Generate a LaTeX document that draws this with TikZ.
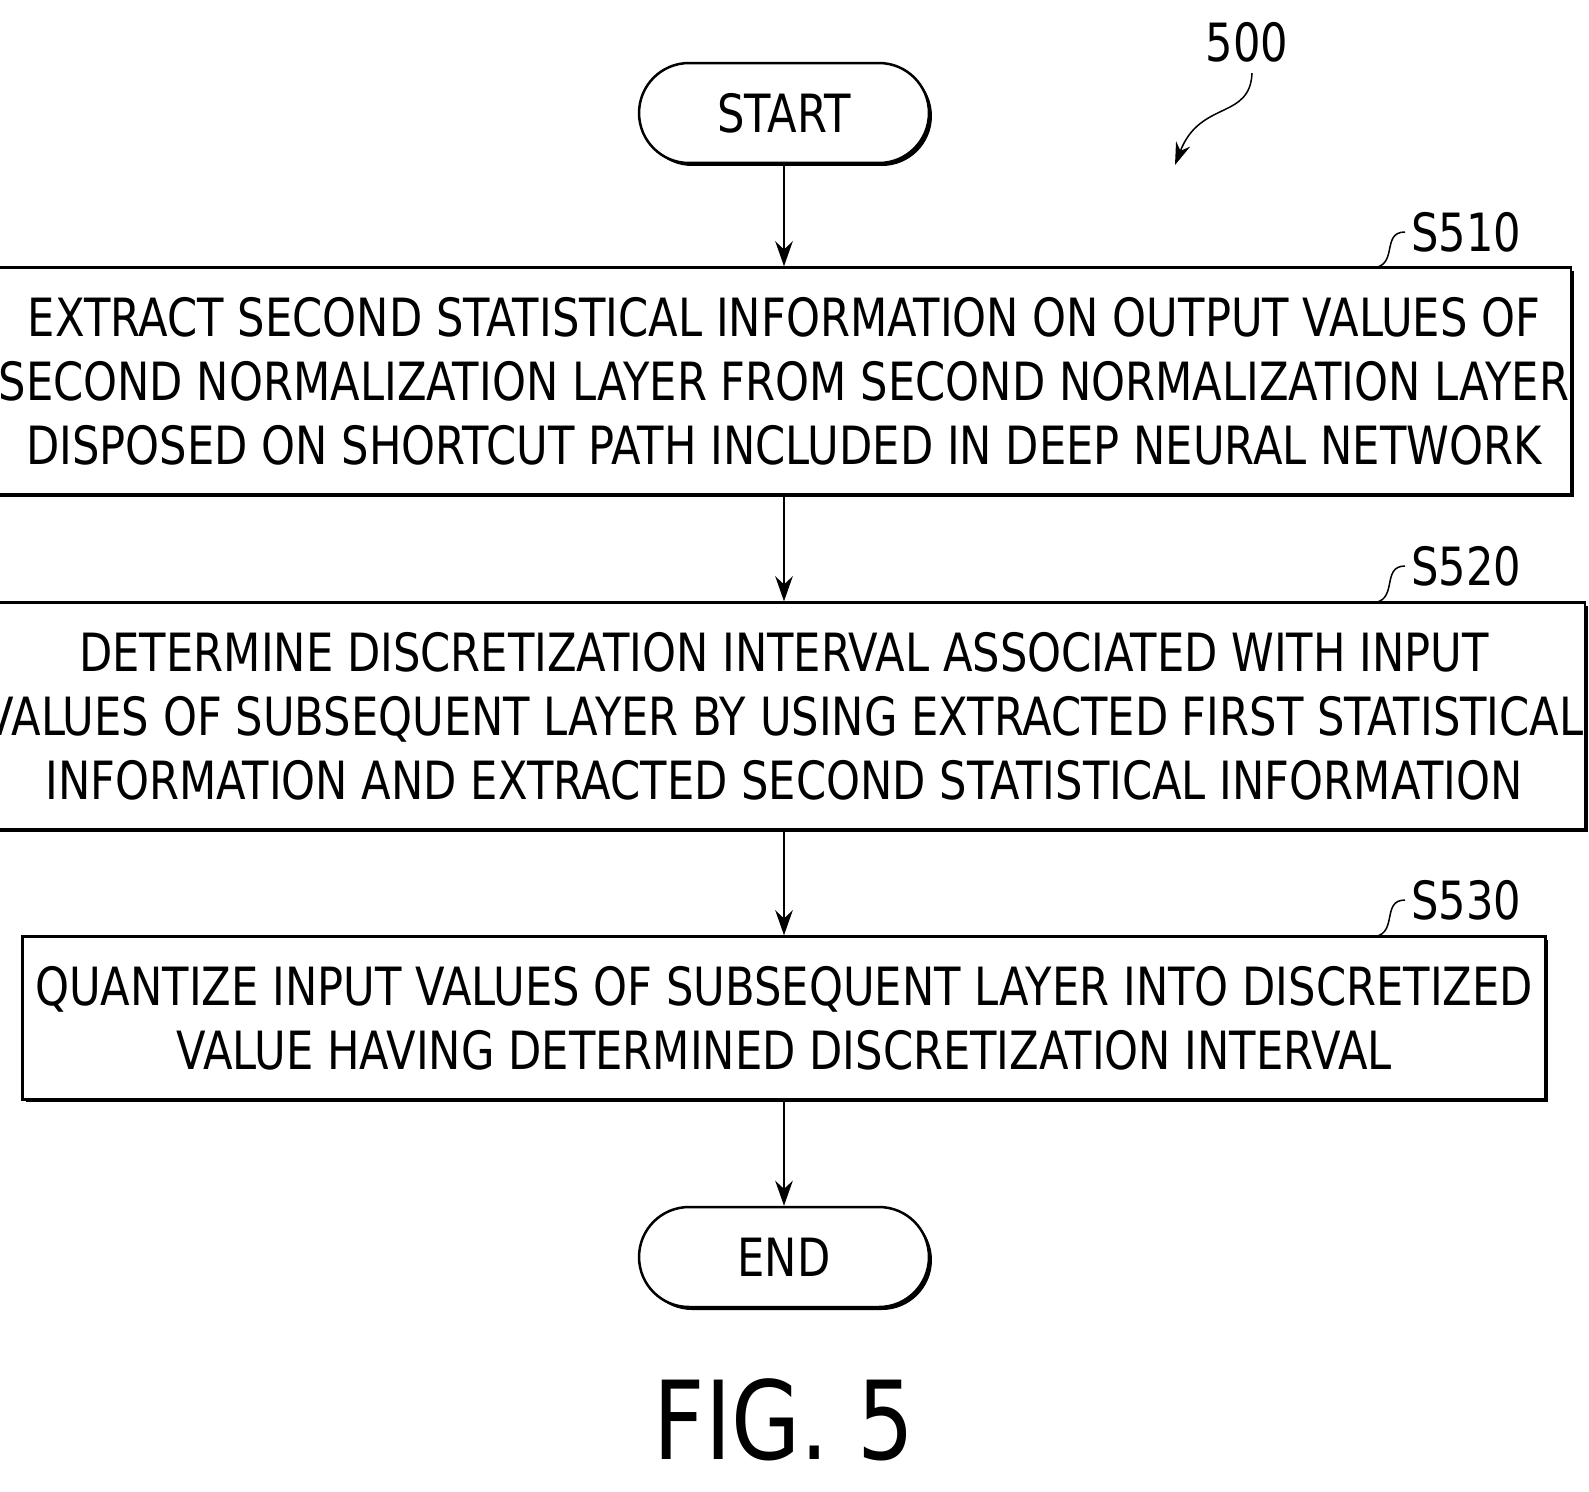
\documentclass[tikz,border=0pt]{standalone}
\usepackage{fontspec}
\setmainfont{DejaVu Sans}[FakeStretch=0.82]
\usetikzlibrary{positioning,shadows,arrows.meta}
\tikzstyle{terminator} = [rectangle, draw, fill=white, text centered, rounded corners=1cm, minimum width=5.8cm, minimum height=2cm, line width=0.5mm, drop shadow={shadow xshift=0.06cm, shadow yshift=-0.06cm, opacity=1, fill=black}]
\tikzstyle{process} = [rectangle, draw, fill=white, text centered, align=center, minimum width=30.46cm, inner xsep=1pt, line width=0.5mm, drop shadow={shadow xshift=0.06cm, shadow yshift=-0.06cm, opacity=1, fill=black}]
\tikzstyle{connector} = [line width=0.4mm, -{Stealth[length=0.5cm,width=0.35cm]}]
\tikzstyle{leader} = [line width=0.3mm]

\begin{document}
\begin{tikzpicture}[x=0.02cm, y=-0.02cm, font=\fontsize{30}{36.5}\selectfont]
        \useasboundingbox (0,0) rectangle (1589,1491);
        \node (start) [terminator] at (784,113) {START};
        \node (s510) [process, minimum height=4.54cm] at (784,381) {EXTRACT SECOND STATISTICAL INFORMATION ON OUTPUT VALUES OF\\SECOND NORMALIZATION LAYER FROM SECOND NORMALIZATION LAYER\\DISPOSED ON SHORTCUT PATH INCLUDED IN DEEP NEURAL NETWORK};
        \node (s520) [process, minimum height=4.54cm] at (784,716) {DETERMINE DISCRETIZATION INTERVAL ASSOCIATED WITH INPUT\\VALUES OF SUBSEQUENT LAYER BY USING EXTRACTED FIRST STATISTICAL\\INFORMATION AND EXTRACTED SECOND STATISTICAL INFORMATION};
        \node (s530) [process, minimum height=3.26cm] at (784,1018) {QUANTIZE INPUT VALUES OF SUBSEQUENT LAYER INTO DISCRETIZED\\VALUE HAVING DETERMINED DISCRETIZATION INTERVAL};
        \node (end) [terminator] at (784,1257) {END};
        \node (fig) at (784,1420) {\fontsize{62}{70}\selectfont FIG. 5};
        % step labels
        \node (lab510) [anchor=west] at (1405,232) {S510};
        \node (lab520) [anchor=west] at (1405,566) {S520};
        \node (lab530) [anchor=west] at (1405,900) {S530};
        \node (lab500) at (1247,42) {500};
        \coordinate (foot510) at (1370,268);
        \coordinate (foot520) at (1370,603);
        \coordinate (foot530) at (1370,937);
        \coordinate (arr500) at (1175,165);
        \draw [leader] (foot510) .. controls (1400,268) and (1380,232) .. (lab510.west);
        \draw [leader] (foot520) .. controls (1400,603) and (1380,566) .. (lab520.west);
        \draw [leader] (foot530) .. controls (1400,937) and (1380,900) .. (lab530.west);
        \draw [leader, -{Stealth[length=0.45cm,width=0.3cm]}] (lab500.south) ++(5,5) .. controls (1250,120) and (1200,100) .. (arr500);
        \draw [connector] (start) -- (s510);
        \draw [connector] (s510) -- (s520);
        \draw [connector] (s520) -- (s530);
        \draw [connector] (s530) -- (end);
\end{tikzpicture}
\end{document}
